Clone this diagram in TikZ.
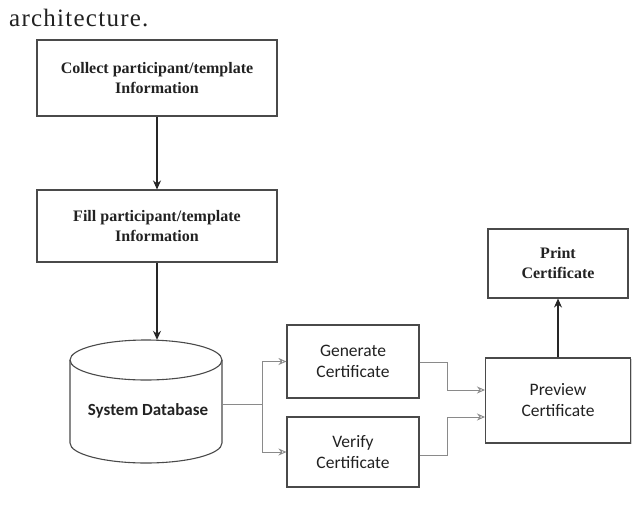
\documentclass[tikz,border=0pt]{standalone}
\usepackage{fontspec}
\setmainfont{Liberation Serif}
\newfontfamily\sansf{Carlito}
\usetikzlibrary{arrows.meta,shadows}
\definecolor{boxline}{HTML}{4A4A4A}
\definecolor{txt}{HTML}{222222}
\definecolor{conn}{HTML}{8A8A8A}
\tikzset{
  box/.style={draw=boxline, line width=1.1pt, fill=white, text=txt, align=center,
    drop shadow={shadow xshift=1.2pt, shadow yshift=-1.2pt, opacity=0.35}},
  serifbox/.style={box, font=\fontsize{16}{20}\selectfont\bfseries},
  sansbox/.style={box, font=\sansf\fontsize{17.5}{21}\selectfont},
  darkarrow/.style={draw=black!85, line width=1.1pt, -{Stealth[length=9pt,width=8pt]}},
  greyarrow/.style={draw=conn, line width=0.9pt, -{Stealth[length=8pt,width=7pt,open]}},
  greyline/.style={draw=conn, line width=0.9pt},
}
\begin{document}
\begin{tikzpicture}[x=1pt,y=-1pt]
\useasboundingbox[fill=white] (0,0) rectangle (635,507);

\node[anchor=west, text=txt, inner sep=0,
  font=\fontsize{25}{28}\selectfont\addfontfeature{LetterSpace=5}] (cap) at (9,18) {architecture.};

\node[serifbox, minimum width=240, minimum height=76] (c1) at (157,78)
  {Collect participant/template\\Information};
\node[serifbox, minimum width=240, minimum height=72] (f1) at (157,226)
  {Fill participant/template\\Information};

% cylinder
\node[minimum width=152, minimum height=123, inner sep=0] (db) at (146,401.5) {};
\draw[boxline, line width=1.1pt, fill=white]
  (70,360) -- (70,443) arc[start angle=180, end angle=360, x radius=76, y radius=-20]
  -- (222,360) arc[start angle=0, end angle=180, x radius=76, y radius=-20] -- cycle;
\draw[boxline, line width=1.1pt]
  (70,360) arc[start angle=180, end angle=360, x radius=76, y radius=-20];
\node[text=txt, font=\sansf\fontsize{17}{21}\selectfont\bfseries] (dbt) at (148,411) {System Database};

\node[sansbox, minimum width=132, minimum height=73] (gen) at (353,361.5)
  {Generate\\Certificate};
\node[sansbox, minimum width=132, minimum height=70] (ver) at (353,452)
  {Verify\\Certificate};
\node[sansbox, minimum width=145, minimum height=85] (prev) at (558,400.5)
  {Preview\\Certificate};
\node[serifbox, minimum width=140, minimum height=69] (print) at (558,263.5)
  {Print\\Certificate};

\coordinate (split) at (262,404);
\coordinate (gj) at (447,362);
\coordinate (vj) at (447,455);
\coordinate (p1) at (485,390);
\coordinate (p2) at (485,417);

\draw[darkarrow] (c1.south) -- (f1.north);
\draw[darkarrow] (f1.south) -- (f1.south |- db.north);
\draw[greyline] (db.east |- split) -- (split);
\draw[greyarrow] (split) |- (gen.west);
\draw[greyarrow] (split) |- (ver.west);
\draw[greyarrow] (gen.east |- gj) -- (gj) |- (p1);
\draw[greyarrow] (ver.east |- vj) -- (vj) |- (p2);
\draw[darkarrow] (prev.north) -- (print.south);
\end{tikzpicture}
\end{document}
